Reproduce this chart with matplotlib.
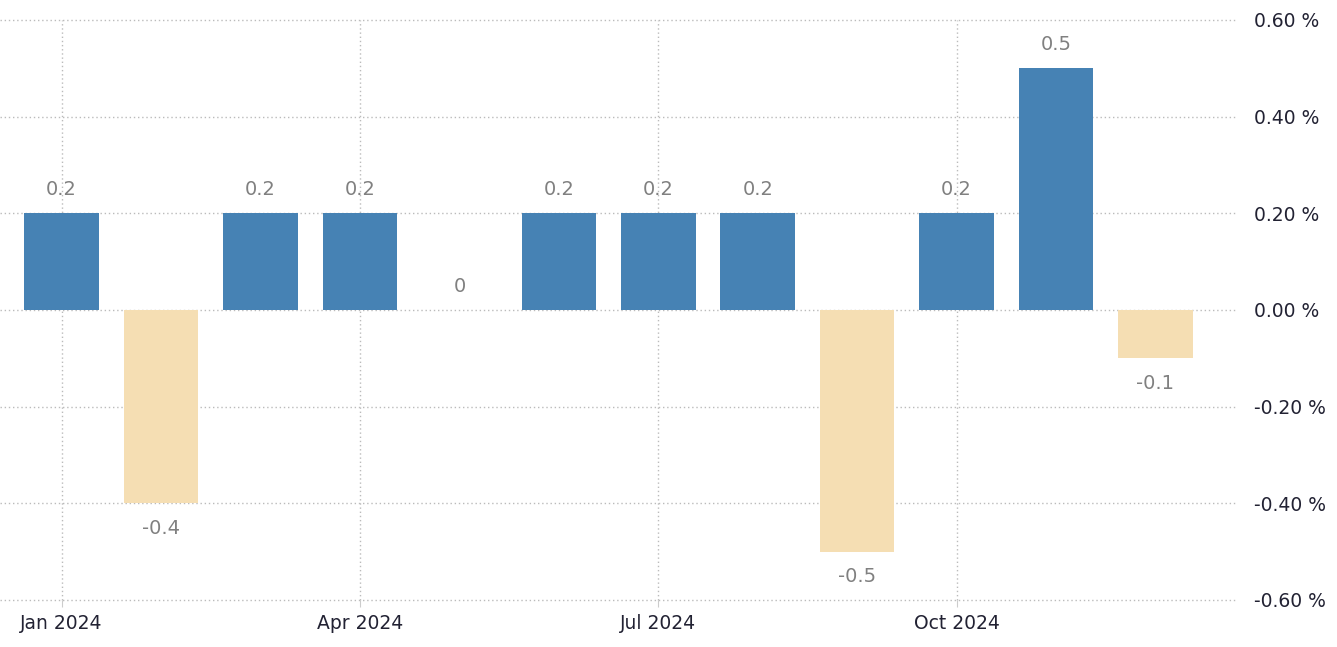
import matplotlib
matplotlib.use("Agg")
import matplotlib.pyplot as plt

months = ["Jan 2024", "Feb 2024", "Mar 2024", "Apr 2024", "May 2024", "Jun 2024",
          "Jul 2024", "Aug 2024", "Sep 2024", "Oct 2024", "Nov 2024", "Dec 2024"]
values = [0.2, -0.4, 0.2, 0.2, 0.0, 0.2, 0.2, 0.2, -0.5, 0.2, 0.5, -0.1]
value_labels = ["0.2", "-0.4", "0.2", "0.2", "0", "0.2", "0.2", "0.2", "-0.5", "0.2", "0.5", "-0.1"]
xtick_idx = [0, 3, 6, 9]
xtick_labels = ["Jan 2024", "Apr 2024", "Jul 2024", "Oct 2024"]
yticks = [-0.6, -0.4, -0.2, 0.0, 0.2, 0.4, 0.6]
ytick_labels = ["-0.60 %", "-0.40 %", "-0.20 %", "0.00 %", "0.20 %", "0.40 %", "0.60 %"]

pos_color = "#4682B4"
neg_color = "#F5DEB3"

plt.rcParams["font.family"] = ["DejaVu Sans"]

fig = plt.figure(figsize=(13.37, 6.47), dpi=100)
ax = fig.add_axes([0.0, 0.0727, 0.9237, 0.8964])

x = list(range(len(values)))
colors = [pos_color if v >= 0 else neg_color for v in values]
ax.bar(x, values, width=0.75, color=colors, zorder=2)

for xi, v, lab in zip(x, values, value_labels):
    if v < 0:
        ax.annotate(lab, (xi, v), xytext=(0, -11), textcoords="offset points",
                    ha="center", va="top", fontsize=14, color="#808080")
    else:
        ax.annotate(lab, (xi, v), xytext=(0, 10), textcoords="offset points",
                    ha="center", va="bottom", fontsize=14, color="#808080")

ax.set_xlim(-0.62, 11.8)
ax.set_ylim(-0.6, 0.6)
ax.set_xticks(xtick_idx)
ax.set_xticklabels(xtick_labels, fontsize=13.5, color="#222233")
ax.yaxis.tick_right()
ax.set_yticks(yticks)
ax.set_yticklabels(ytick_labels, fontsize=13.5, color="#222233")
ax.tick_params(axis="y", length=0, pad=14)
ax.tick_params(axis="x", length=5, color="#cccccc", pad=5, direction="out")

ax.grid(True, which="major", linestyle=(0, (1, 2)), color="#bbbbbb", linewidth=1, zorder=0)
ax.set_axisbelow(True)
for gl in ax.get_ygridlines() + ax.get_xgridlines():
    gl.set_clip_on(False)
for s in ax.spines.values():
    s.set_visible(False)

fig.savefig("out.png", dpi=100)
